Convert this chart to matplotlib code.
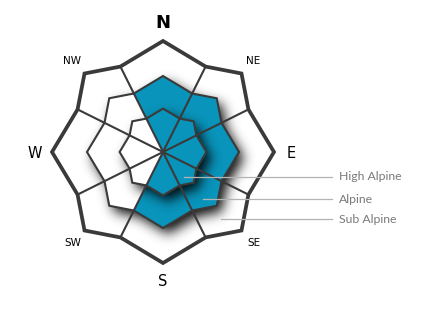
import numpy as np
import matplotlib
matplotlib.use("Agg")
import matplotlib.pyplot as plt
from matplotlib.patches import Polygon

# ---- data ----
directions = ['N', 'NE', 'E', 'SE', 'S', 'SW', 'W', 'NW']
elevation_bands = ['High Alpine', 'Alpine', 'Sub Alpine']
high_alpine = [1, 1, 1, 1, 1, 0, 0, 0]
alpine = [1, 1, 1, 1, 1, 0, 0, 0]
sub_alpine = [0, 0, 0, 0, 0, 0, 0, 0]

# ---- layout / style ----
W, H = 429, 317
cx, cy = 163.0, 152.0
ring_r = {'Sub Alpine': 111.0, 'Alpine': 76.0, 'High Alpine': 43.4}
notch = 0.86          # in-between vertex radius factor
off_card = 26.5       # spoke bearing offset from cardinal direction
label_r = 128.0
blue = '#0994bb'
edge = '#3a3a3a'
shade_on = blue
shade_off = 'white'

def pt(r, b):
    b = np.deg2rad(b)
    return (cx + r * np.sin(b), cy - r * np.cos(b))

def spoke_bearing(i):
    # boundary between direction i and i+1
    return 45 * i + (off_card if i % 2 == 0 else 45 - off_card)

def star(r):
    verts = []
    for i in range(8):
        verts.append(pt(r, 45 * i))
        verts.append(pt(r * notch, spoke_bearing(i)))
    return verts

def wedge(r, j):
    return [(cx, cy), pt(r * notch, spoke_bearing(j - 1) % 360),
            pt(r, 45 * j), pt(r * notch, spoke_bearing(j))]

class Shadow:
    def __init__(self, sigma=6.0, alpha=0.95, ox=5, oy=6):
        self.sigma, self.alpha, self.ox, self.oy = sigma, alpha, ox, oy
    def __call__(self, im, dpi):
        pad = int(4 * self.sigma + max(abs(self.ox), abs(self.oy))) + 2
        a = np.pad(im[..., 3].astype(float), pad)
        a = np.roll(a, self.oy, axis=0)
        a = np.roll(a, self.ox, axis=1)
        n = int(3 * self.sigma)
        x = np.arange(-n, n + 1)
        k = np.exp(-x ** 2 / (2 * self.sigma ** 2)); k /= k.sum()
        a = np.apply_along_axis(lambda m: np.convolve(m, k, mode='same'), 0, a)
        a = np.apply_along_axis(lambda m: np.convolve(m, k, mode='same'), 1, a)
        out = np.zeros(a.shape + (4,))
        out[..., 3] = np.clip(a * self.alpha, 0, 1)
        return out, -pad, -pad

fig = plt.figure(figsize=(W / 100, H / 100), dpi=100)
ax = fig.add_axes([0, 0, 1, 1])
ax.set_xlim(0, W)
ax.set_ylim(H, 0)
ax.axis('off')

band_values = {'High Alpine': high_alpine, 'Alpine': alpine, 'Sub Alpine': sub_alpine}
z = 1
for band in ['Sub Alpine', 'Alpine', 'High Alpine']:
    r = ring_r[band]
    if band != 'Sub Alpine':
        sh = Polygon(star(r), closed=True, facecolor='black', edgecolor='none', zorder=z)
        sh.set_agg_filter(Shadow())
        ax.add_patch(sh)
    z += 1
    for j, v in enumerate(band_values[band]):
        ax.add_patch(Polygon(wedge(r, j), closed=True,
                             facecolor=shade_on if v else shade_off,
                             edgecolor='none', zorder=z))
    z += 1
    if band != 'Sub Alpine':
        ax.add_patch(Polygon(star(r), closed=True, fill=False, edgecolor=edge,
                             linewidth=1.5, joinstyle='miter', zorder=z))
    z += 1

# spokes
R = ring_r['Sub Alpine']
for i in range(8):
    x1, y1 = pt(R * notch, spoke_bearing(i))
    ax.plot([cx, x1], [cy, y1], color=edge, lw=1.5, zorder=z, solid_capstyle='butt')
z += 1
ax.add_patch(Polygon(star(R), closed=True, fill=False, edgecolor=edge,
                     linewidth=2.7, joinstyle='miter', zorder=z))

# direction labels
for j, d in enumerate(directions):
    x, y = pt(label_r, 45 * j)
    if d == 'N':
        ax.text(x, y - 1.5, d, fontsize=13, fontweight='bold', ha='center', va='center',
                family='DejaVu Sans', color='black')
    elif len(d) == 1:
        ax.text(x, y + 1, d, fontsize=10.5, ha='center', va='center',
                family='DejaVu Sans', color='black')
    else:
        ax.text(x, y, d, fontsize=7.5, ha='center', va='center',
                family='DejaVu Sans', color='black')

# legend leaders
leader_bearing = 139.5
leader_r = {'High Alpine': 32.4, 'Alpine': 62.0, 'Sub Alpine': 88.6}
for band in elevation_bands:
    x0, y0 = pt(leader_r[band], leader_bearing)
    ax.plot([x0, 332], [y0, y0], color='#b3b3b3', lw=0.9, zorder=z + 2)
    ax.text(339, y0, band, fontsize=8.8, family='Lato', color='#7a7a7a',
            ha='left', va='center', zorder=z + 2)

fig.savefig('out.png', dpi=100)
